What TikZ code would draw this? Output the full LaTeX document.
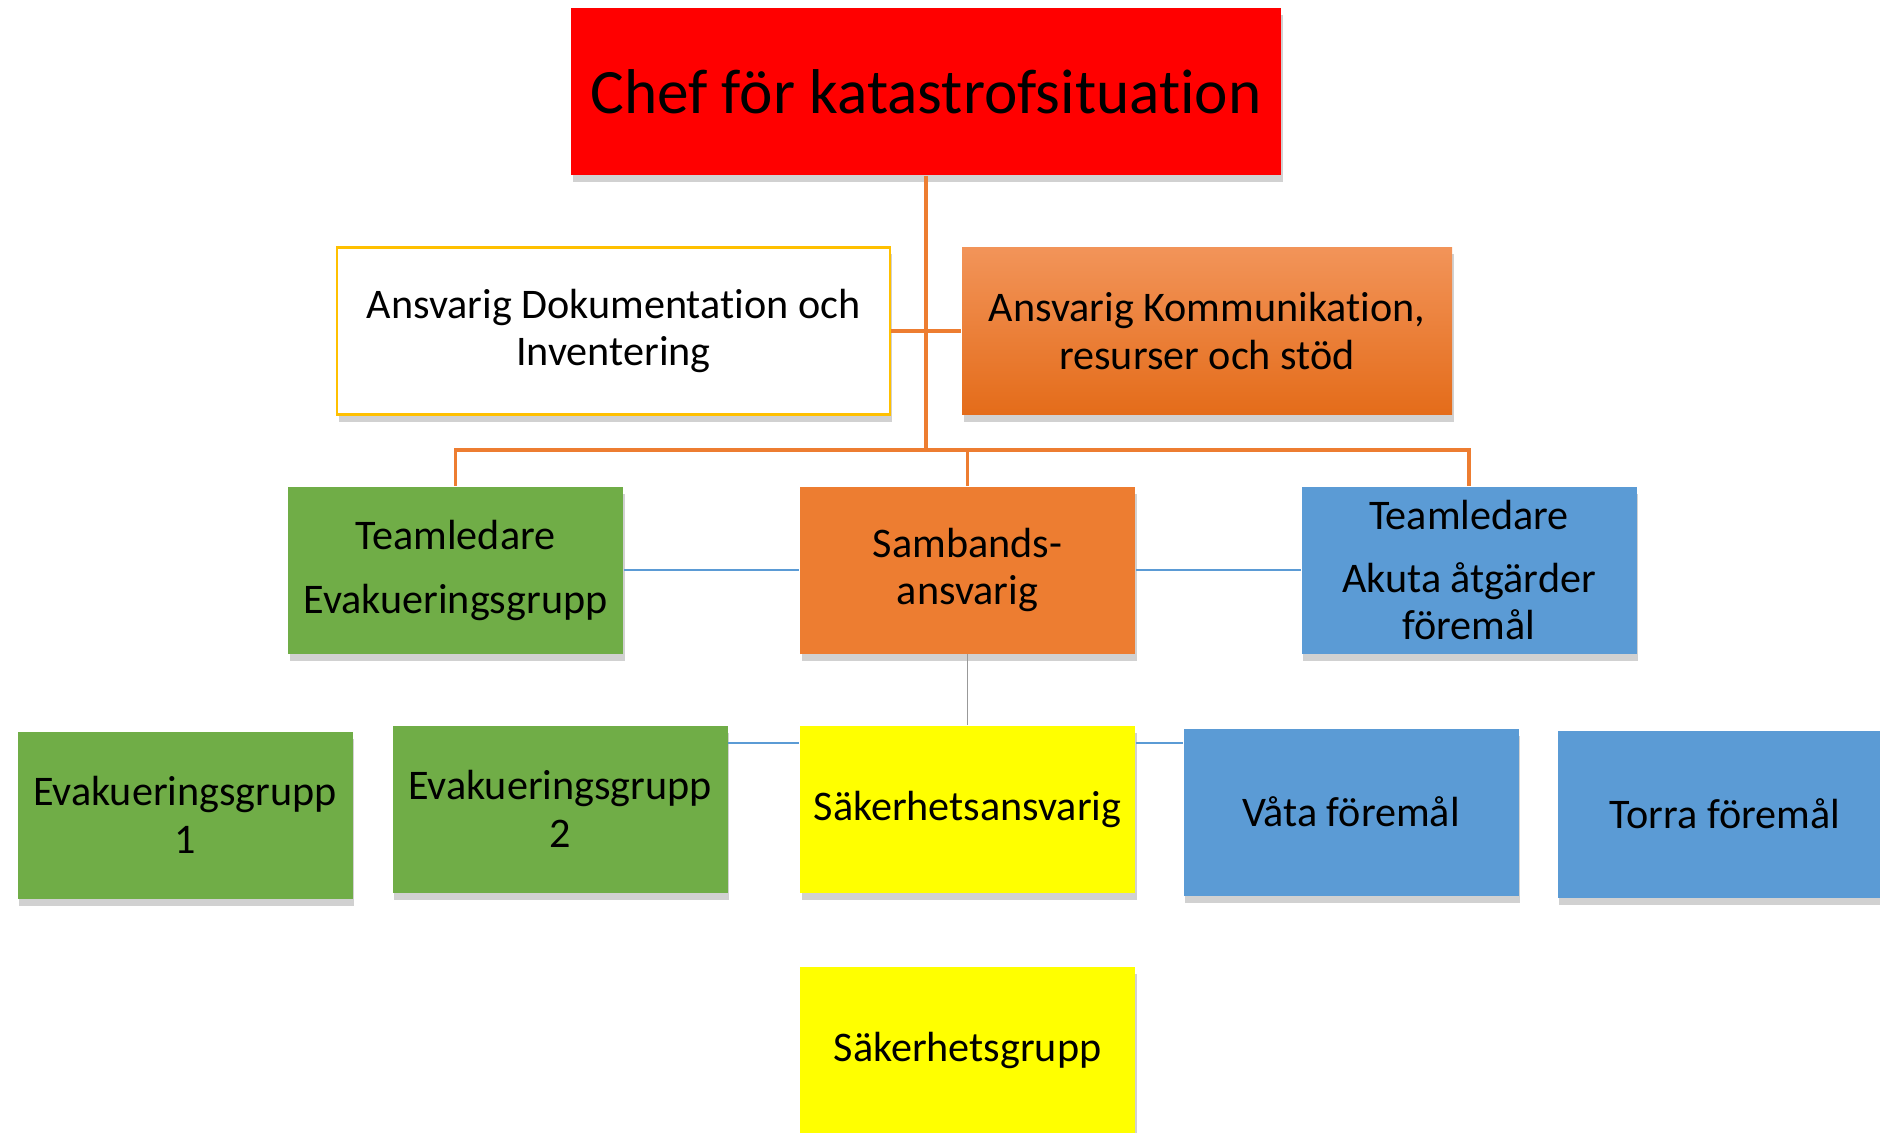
\documentclass[tikz,border=0pt]{standalone}
\usepackage{fontspec}
\setmainfont[RawFeature={-liga;-clig;-dlig;-calt}]{Carlito}
\usetikzlibrary{shadows,positioning}

\definecolor{chefred}{HTML}{FF0000}
\definecolor{grpgreen}{HTML}{70AD47}
\definecolor{grporange}{HTML}{ED7D31}
\definecolor{kommtop}{HTML}{F29459}
\definecolor{kommbot}{HTML}{E46C1A}
\definecolor{grpblue}{HTML}{5B9BD5}
\definecolor{grpyellow}{HTML}{FFFF00}
\definecolor{docgold}{HTML}{FFC000}

\begin{document}
\begin{tikzpicture}[x=1cm,y=1cm,
  box/.style={rectangle,inner sep=0pt,align=center,minimum width=3.35cm,minimum height=1.67cm,
    font=\fontsize{12}{13.5}\selectfont,
    drop shadow={shadow xshift=0.15mm,shadow yshift=-0.7mm,fill=black,opacity=0.18}},
  green/.style={box,fill=grpgreen},
  blue/.style={box,fill=grpblue},
  yellow/.style={box,fill=grpyellow},
  orgline/.style={draw=grporange,line width=0.9pt},
  blueline/.style={draw=grpblue,line width=0.5pt},
  grayline/.style={draw=gray!80,line width=0.5pt}]
  \useasboundingbox (0,0) rectangle (18.8,-11.32);
  \clip (0,0) rectangle (18.8,-11.32);

  % top of the chart
  \node[box,fill=chefred,minimum width=7.1cm,font=\fontsize{18}{20}\selectfont](chef) at (9.26,-0.915){Chef för katastrofsituation};
  \node[box,fill=white,draw=docgold,line width=0.6pt,minimum width=5.53cm](dok) at (6.135,-3.31){Ansvarig Dokumentation och\\Inventering};
  \node[box,top color=kommtop,bottom color=kommbot,minimum width=4.9cm](komm) at (12.07,-3.31){Ansvarig Kommunikation,\\resurser och stöd};

  % team leaders
  \node[green](tlevak) at (4.555,-5.70){Teamledare\\[4.7pt]Evakueringsgrupp};
  \node[box,fill=grporange](samb) at (9.675,-5.70){Sambands-\\ansvarig};
  \node[blue](tlakut) at (14.69,-5.70){Teamledare\\[4.5pt]Akuta åtgärder\\föremål};

  % groups
  \node[green](evak1) at (1.85,-8.15){Evakueringsgrupp\\1};
  \node[green](evak2) at (5.60,-8.09){Evakueringsgrupp\\2};
  \node[yellow](sak) at (9.675,-8.09){Säkerhetsansvarig};
  \node[blue](vata) at (13.51,-8.12){Våta föremål};
  \node[blue](torra) at (17.25,-8.14){Torra föremål};
  \node[yellow](sakgrp) at (9.675,-10.50){Säkerhetsgrupp};

  \coordinate (bus) at (9.26,-4.50);
  \coordinate (sakw) at ([yshift=-1.8mm]sak.north west);
  \coordinate (sake) at ([yshift=-1.8mm]sak.north east);

  \path[orgline] (chef) edge (bus);
  \path[orgline] (dok) edge (komm);
  \draw[orgline] (tlevak) |- (bus) -| (tlakut);
  \draw[orgline] (bus -| samb) -- (samb);
  \path[blueline] (tlevak) edge (samb);
  \path[blueline] (samb) edge (tlakut);
  \path[grayline] (samb) edge (sak);
  \draw[blueline] (sakw -| evak2.east) -- (sakw);
  \draw[blueline] (sake) -- (sake -| vata.west);
\end{tikzpicture}
\end{document}
